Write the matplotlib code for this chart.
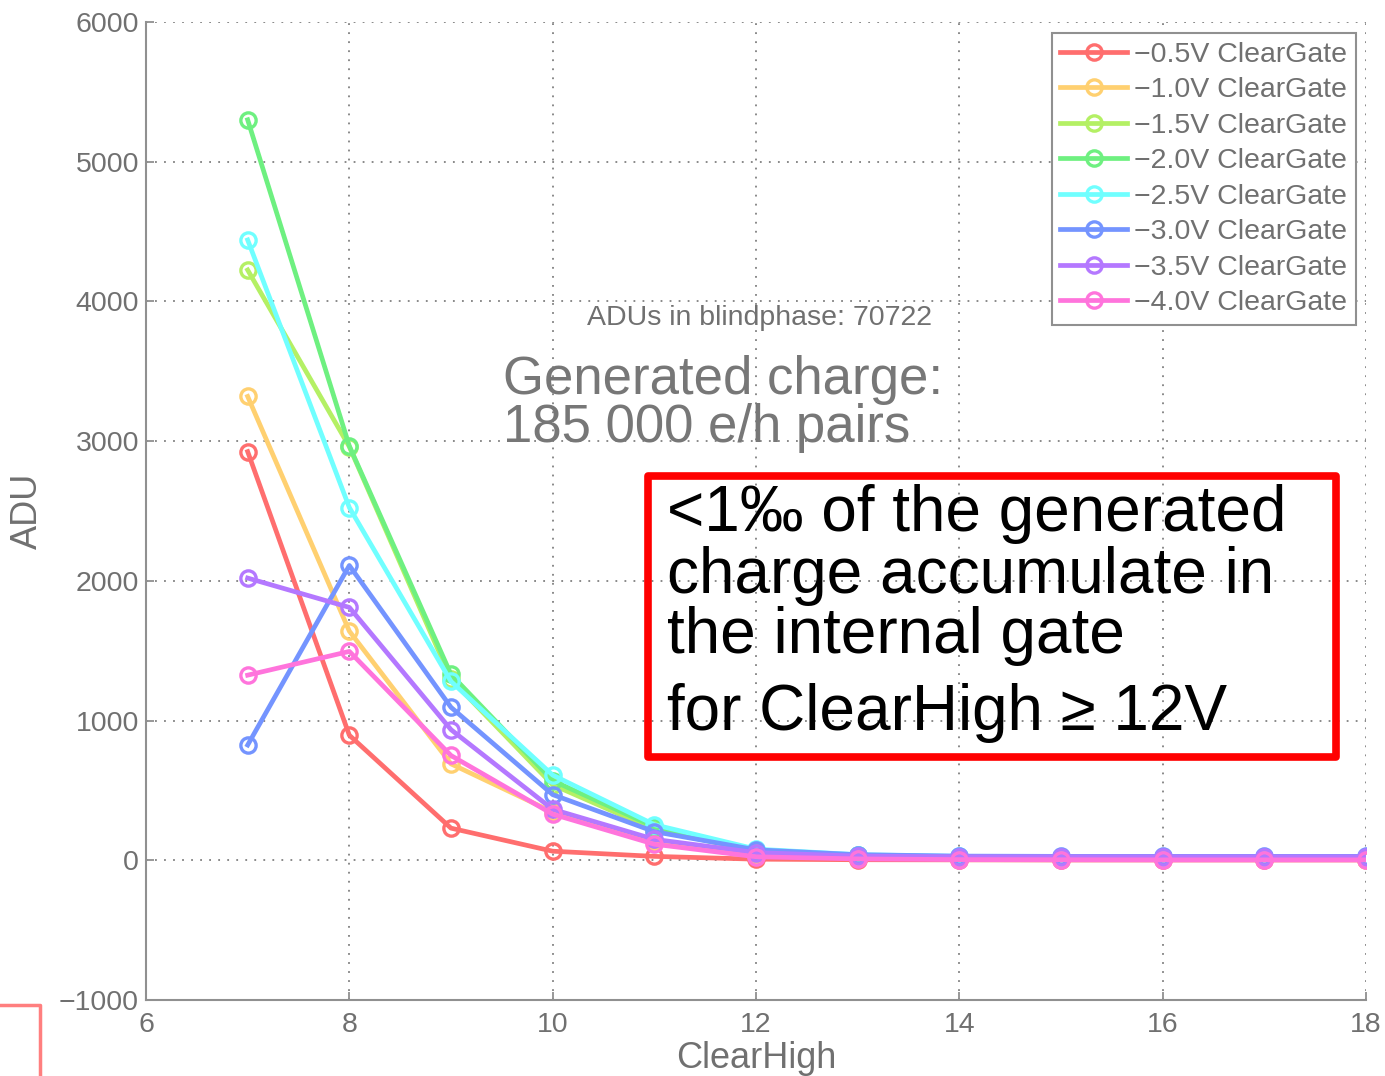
import matplotlib
matplotlib.use('Agg')
import matplotlib.pyplot as plt
from matplotlib.lines import Line2D
from matplotlib.patches import Rectangle

plt.rcParams['font.family'] = ['Liberation Sans', 'DejaVu Sans']

# ClearHigh voltage steps and ADU per ClearGate setting
clear_high = [7, 8, 9, 10, 11, 12, 13, 14, 15, 16, 17, 18]
adu_05 = [2925, 895, 230, 65, 28, 8, 4, 3, 2, 2, 2, 2]
adu_10 = [3320, 1640, 690, 345, 130, 35, 15, 10, 8, 6, 6, 5]
adu_15 = [4225, 2960, 1295, 540, 220, 65, 30, 20, 15, 15, 15, 15]
adu_20 = [5300, 2965, 1330, 570, 240, 70, 35, 25, 20, 20, 20, 20]
adu_25 = [4440, 2525, 1280, 610, 255, 80, 40, 28, 22, 22, 22, 22]
adu_30 = [825, 2110, 1095, 470, 205, 75, 40, 30, 28, 28, 28, 28]
adu_35 = [2020, 1810, 935, 365, 150, 55, 30, 25, 25, 25, 25, 25]
adu_40 = [1325, 1495, 750, 330, 115, 25, 10, 5, 4, 3, 3, 3]

labels = ['\u22120.5V ClearGate', '\u22121.0V ClearGate', '\u22121.5V ClearGate',
          '\u22122.0V ClearGate', '\u22122.5V ClearGate', '\u22123.0V ClearGate',
          '\u22123.5V ClearGate', '\u22124.0V ClearGate']
series = [adu_05, adu_10, adu_15, adu_20, adu_25, adu_30, adu_35, adu_40]
colors = ['#ff6e6e', '#ffd070', '#b4f064', '#6ef080', '#70ffff',
          '#7494ff', '#b478ff', '#ff74dc']

conclusion = ['<1\u2030 of the generated', 'charge accumulate in',
              'the internal gate', 'for ClearHigh \u2265 12V']

W, H = 1385, 1076
fig = plt.figure(figsize=(W / 100, H / 100), dpi=100)
ax = fig.add_axes([146 / W, 1 - 1000 / H, (1366 - 146) / W, (1000 - 22) / H])

gray = '#707070'
for y, lab, c in zip(series, labels, colors):
    ax.plot(clear_high, y, color=c, lw=3.4, marker='o', ms=11, mew=2.4,
            fillstyle='none', label=lab)

ax.set_xlim(6, 18)
ax.set_ylim(-1000, 6000)
ax.set_xticks(range(6, 19, 2))
ax.set_yticks(range(-1000, 6001, 1000))
ax.grid(True, linestyle=(0, (1, 4)), color='#808080', lw=1.3)
for s in ['top', 'right']:
    ax.spines[s].set_visible(False)
for s in ['left', 'bottom']:
    ax.spines[s].set_color('#909090')
    ax.spines[s].set_linewidth(1.5)
ax.tick_params(direction='in', length=6, width=1.3, color='#909090',
               labelsize=20.5, labelcolor=gray)
ax.tick_params(axis='x', pad=9)
ax.tick_params(axis='y', pad=5)
ax.set_xlabel('ClearHigh', fontsize=26, color=gray, labelpad=2)
ax.set_ylabel('ADU', fontsize=26, color=gray, labelpad=10)

leg = ax.legend(loc='upper right', bbox_to_anchor=(1356 / W, 1 - 33 / H),
                bbox_transform=fig.transFigure, fontsize=20.5, handlelength=2.35,
                handletextpad=0.25, labelspacing=0.335, borderpad=0.3,
                borderaxespad=0, fancybox=False, framealpha=1)
leg.get_frame().set_edgecolor('#909090')
leg.get_frame().set_linewidth(1.5)
for t in leg.get_texts():
    t.set_color(gray)

fig.text(932 / W, 1 - 318 / H, 'ADUs in blindphase: 70722', fontsize=20.5,
         color=gray, ha='right', va='center')
fig.text(503 / W, 1 - 355 / H, 'Generated charge:\n185 000 e/h pairs',
         fontsize=38, color='#777777', ha='left', va='top', linespacing=0.95)

# boxed conclusion
fig.add_artist(Rectangle((648 / W, 1 - 757 / H), (1336 - 648) / W, (757 - 476) / H,
                         transform=fig.transFigure, fill=False, edgecolor='#ff0000',
                         lw=5.5, joinstyle='round'))
for line, base in zip(conclusion, [531, 593, 653, 730]):
    fig.text(667 / W, 1 - base / H, line, fontsize=46, color='black',
             ha='left', va='baseline')

# edge of a neighbouring frame
fig.add_artist(Line2D([0, 40 / W, 40 / W], [1 - 1005 / H, 1 - 1005 / H, 0],
                      transform=fig.transFigure, color='#ff7f7f', lw=2.5))

fig.savefig('out.png', dpi=100)
